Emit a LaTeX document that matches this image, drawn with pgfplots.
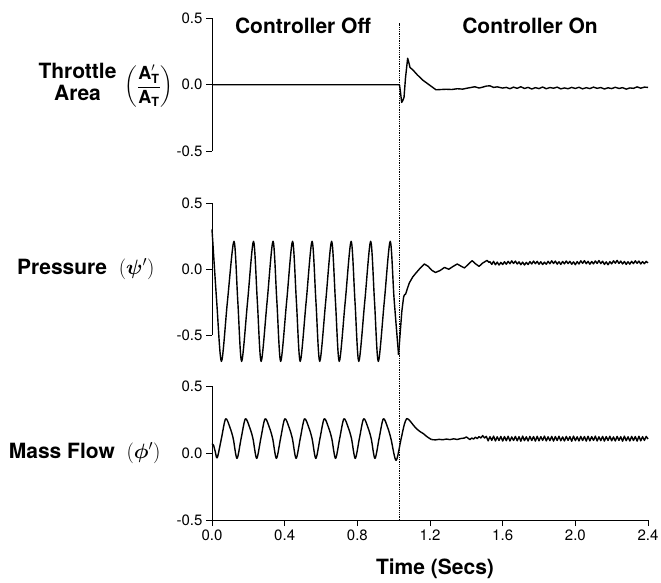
\documentclass[border=0pt]{standalone}
\usepackage{amsmath}
\usepackage{fontspec}
\setmainfont{TeX Gyre Heros}
\usepackage{pgfplots}
\pgfplotsset{compat=1.18}
\pgfplotsset{
  panel/.style={
    scale only axis, width=436pt, xmin=0, xmax=2.4, ymin=-0.5, ymax=0.5,
    axis y line*=left,
    ytick={-0.5,0,0.5}, yticklabels={-0.5,0.0,0.5},
    tick align=outside, major tick length=6pt,
    tick style={black, line width=1pt},
    axis line style={black, line width=1pt},
    tick label style={font=\fontsize{15}{16}\selectfont},
    clip=false,
  },
  dat/.style={black, line width=1.4pt, line join=round},
}
\newcommand{\lbl}{\fontsize{21}{22}\selectfont\bfseries}
\begin{document}
\begin{tikzpicture}
\useasboundingbox (0pt,0pt) rectangle (661pt,-582pt);

% ---------- Throttle area ----------
\begin{axis}[panel, axis x line=none, at={(212pt,-151pt)}, anchor=south west, height=132.5pt]
\addplot[dat] coordinates {
(0,0) (1.032,0) (1.037,-0.05) (1.044,-0.133) (1.050,-0.12) (1.057,-0.095) (1.065,0.05)
(1.077,0.20) (1.083,0.17) (1.090,0.13) (1.105,0.113) (1.130,0.075) (1.160,0.035) (1.200,-0.005)
(1.233,-0.038) (1.26,-0.036) (1.29,-0.034) (1.32,-0.036) (1.35,-0.030) (1.38,-0.033) (1.40,-0.027)
(1.42,-0.022) (1.447,-0.015) (1.47,-0.025) (1.49,-0.018) (1.51,-0.010) (1.53,-0.008) (1.55,-0.02)
(1.57,-0.016) (1.60,-0.025) (1.62,-0.020) (1.64,-0.030) (1.66,-0.018) (1.68,-0.027) (1.70,-0.015)
(1.72,-0.028) (1.74,-0.020) (1.76,-0.032) (1.78,-0.022) (1.80,-0.029) (1.82,-0.017) (1.84,-0.030)
(1.86,-0.021) (1.88,-0.026) (1.90,-0.018) (1.92,-0.031) (1.94,-0.024) (1.96,-0.030) (1.98,-0.020)
(2.00,-0.028) (2.02,-0.019) (2.04,-0.031) (2.06,-0.022) (2.08,-0.029) (2.10,-0.018) (2.12,-0.027)
(2.14,-0.021) (2.16,-0.032) (2.18,-0.023) (2.20,-0.029) (2.22,-0.019) (2.24,-0.028) (2.26,-0.022)
(2.28,-0.033) (2.30,-0.024) (2.32,-0.027) (2.34,-0.016) (2.36,-0.026) (2.38,-0.018) (2.40,-0.020)
};
\end{axis}

% ---------- Pressure ----------
\begin{axis}[panel, axis x line=none, at={(212pt,-335pt)}, anchor=south west, height=132pt]
\addplot[dat, smooth] coordinates {
(0.000,0.30) (0.026,-0.25) (0.052,-0.70) (0.085,-0.245) (0.121,0.21) (0.142,-0.245)
(0.163,-0.70) (0.196,-0.245) (0.2285,0.21) (0.2495,-0.245) (0.2705,-0.70) (0.3035,-0.245)
(0.336,0.21) (0.357,-0.245) (0.378,-0.70) (0.411,-0.245) (0.4435,0.21) (0.4645,-0.245)
(0.4855,-0.70) (0.5185,-0.245) (0.551,0.21) (0.572,-0.245) (0.593,-0.70) (0.626,-0.245)
(0.6585,0.21) (0.6795,-0.245) (0.7005,-0.70) (0.7335,-0.245) (0.766,0.21) (0.787,-0.245)
(0.808,-0.70) (0.841,-0.245) (0.8735,0.21) (0.8945,-0.245) (0.9155,-0.70) (0.9485,-0.245)
(0.981,0.21) (1.002,-0.22) (1.027,-0.65)
};
\addplot[dat] coordinates {
(1.027,-0.65) (1.035,-0.50) (1.045,-0.32) (1.055,-0.21) (1.060,-0.195) (1.066,-0.19) (1.075,-0.15)
(1.086,-0.106) (1.105,-0.06) (1.123,-0.03) (1.145,0.005) (1.169,0.038) (1.19,0.02) (1.21,-0.01)
(1.23,-0.026) (1.255,-0.012) (1.280,0.012) (1.303,-0.002) (1.325,0.018) (1.350,0.038) (1.370,0.022)
(1.390,0.008) (1.41,0.035) (1.432,0.063) (1.45,0.04) (1.470,0.02) (1.49,0.045) (1.514,0.065)
(1.525,0.05) (1.53,0.055) (1.54,0.035) (1.55,0.058) (1.56,0.032) (1.57,0.052) (1.58,0.030)
(1.59,0.050) (1.60,0.034) (1.61,0.055) (1.62,0.036) (1.63,0.058) (1.64,0.040) (1.65,0.062)
(1.66,0.042) (1.67,0.060) (1.68,0.038) (1.69,0.054) (1.70,0.033) (1.71,0.052) (1.72,0.030)
(1.73,0.050) (1.74,0.034) (1.75,0.056) (1.76,0.038) (1.77,0.060) (1.78,0.040) (1.79,0.058)
(1.80,0.036) (1.81,0.055) (1.82,0.034) (1.83,0.052) (1.84,0.036) (1.85,0.058) (1.86,0.040)
(1.87,0.062) (1.88,0.042) (1.89,0.060) (1.90,0.037) (1.91,0.055) (1.92,0.035) (1.93,0.057)
(1.94,0.039) (1.95,0.061) (1.96,0.041) (1.97,0.058) (1.98,0.036) (1.99,0.054) (2.00,0.033)
(2.01,0.056) (2.02,0.038) (2.03,0.062) (2.04,0.043) (2.05,0.063) (2.06,0.040) (2.07,0.058)
(2.08,0.036) (2.09,0.057) (2.10,0.039) (2.11,0.061) (2.12,0.042) (2.13,0.064) (2.14,0.041)
(2.15,0.059) (2.16,0.035) (2.17,0.054) (2.18,0.032) (2.19,0.056) (2.20,0.039) (2.21,0.062)
(2.22,0.044) (2.23,0.065) (2.24,0.042) (2.25,0.060) (2.26,0.038) (2.27,0.057) (2.28,0.035)
(2.29,0.055) (2.30,0.037) (2.31,0.058) (2.32,0.041) (2.33,0.062) (2.34,0.043) (2.35,0.060)
(2.36,0.038) (2.37,0.056) (2.38,0.040) (2.39,0.058) (2.40,0.046)
};
\end{axis}

% ---------- Mass flow ----------
\begin{axis}[panel, at={(212pt,-520pt)}, anchor=south west, height=134pt,
  axis x line*=bottom,
  xtick={0,0.4,0.8,1.2,1.6,2.0,2.4}, xticklabels={0.0,0.4,0.8,1.2,1.6,2.0,2.4}]
\addplot[dat, smooth] coordinates {
(0.000,0.07) (0.008,0.06) (0.018,0.01) (0.029,-0.035)
(0.052,0.11) (0.075,0.255) (0.099,0.19) (0.117,0.107) (0.1375,-0.04)
(0.1605,0.11) (0.1835,0.255) (0.2075,0.19) (0.2255,0.107) (0.246,-0.04)
(0.269,0.11) (0.292,0.255) (0.316,0.19) (0.334,0.107) (0.3545,-0.04)
(0.3775,0.11) (0.4005,0.255) (0.4245,0.19) (0.4425,0.107) (0.463,-0.04)
(0.486,0.11) (0.509,0.255) (0.533,0.19) (0.551,0.107) (0.5715,-0.04)
(0.5945,0.11) (0.6175,0.255) (0.6415,0.19) (0.6595,0.107) (0.680,-0.04)
(0.703,0.11) (0.726,0.255) (0.750,0.19) (0.768,0.107) (0.7885,-0.04)
(0.8115,0.11) (0.8345,0.255) (0.8585,0.19) (0.8765,0.107) (0.897,-0.04)
(0.920,0.11) (0.943,0.255) (0.967,0.19) (0.985,0.107) (1.013,-0.055)
(1.04,0.10) (1.058,0.21) (1.072,0.257) (1.09,0.239) (1.11,0.205) (1.127,0.18)
(1.145,0.16) (1.163,0.145) (1.185,0.12) (1.209,0.10)
};
\addplot[dat] coordinates {
(1.209,0.10) (1.23,0.098) (1.25,0.102) (1.27,0.099) (1.29,0.104) (1.31,0.100) (1.33,0.106)
(1.35,0.101) (1.37,0.108) (1.39,0.112) (1.40,0.120) (1.41,0.110) (1.42,0.100) (1.43,0.112)
(1.44,0.104) (1.45,0.118) (1.46,0.108) (1.47,0.122) (1.48,0.112) (1.49,0.130) (1.50,0.112)
(1.51,0.124) (1.52,0.091) (1.53,0.122) (1.54,0.094) (1.55,0.126) (1.56,0.090) (1.57,0.121)
(1.58,0.093) (1.59,0.124) (1.60,0.089) (1.61,0.123) (1.62,0.092) (1.63,0.125) (1.64,0.090)
(1.65,0.120) (1.66,0.094) (1.67,0.124) (1.68,0.091) (1.69,0.122) (1.70,0.088) (1.71,0.126)
(1.72,0.092) (1.73,0.121) (1.74,0.090) (1.75,0.124) (1.76,0.093) (1.77,0.123) (1.78,0.089)
(1.79,0.125) (1.80,0.091) (1.81,0.122) (1.82,0.094) (1.83,0.126) (1.84,0.090) (1.85,0.121)
(1.86,0.092) (1.87,0.124) (1.88,0.089) (1.89,0.123) (1.90,0.093) (1.91,0.125) (1.92,0.091)
(1.93,0.120) (1.94,0.090) (1.95,0.124) (1.96,0.094) (1.97,0.122) (1.98,0.088) (1.99,0.126)
(2.00,0.092) (2.01,0.121) (2.02,0.090) (2.03,0.124) (2.04,0.093) (2.05,0.123) (2.06,0.089)
(2.07,0.125) (2.08,0.091) (2.09,0.122) (2.10,0.094) (2.11,0.126) (2.12,0.090) (2.13,0.121)
(2.14,0.092) (2.15,0.124) (2.16,0.089) (2.17,0.123) (2.18,0.093) (2.19,0.125) (2.20,0.091)
(2.21,0.120) (2.22,0.090) (2.23,0.124) (2.24,0.094) (2.25,0.122) (2.26,0.088) (2.27,0.126)
(2.28,0.092) (2.29,0.121) (2.30,0.090) (2.31,0.124) (2.32,0.093) (2.33,0.123) (2.34,0.089)
(2.35,0.125) (2.36,0.091) (2.37,0.122) (2.38,0.094) (2.39,0.124) (2.40,0.105)
};
% controller switch-on instant
\addplot[black, densely dotted, line width=1.3pt] coordinates {(1.033,-0.5) (1.033,3.21)};
\end{axis}

% ---------- labels ----------
\node[font=\lbl, anchor=base] at (303pt,-33pt) {Controller Off};
\node[font=\lbl, anchor=base] at (530pt,-33pt) {Controller On};
\node[font=\lbl, align=center] at (77.5pt,-82pt) {Throttle\\Area};
\node at (149pt,-86pt) {\fontsize{18}{20}\selectfont$\displaystyle\left(\frac{\text{\bfseries A}'_{\text{\bfseries T}}}{\text{\bfseries A}_{\text{\bfseries T}}}\right)$};
\node[font=\lbl, anchor=east] at (158pt,-269pt) {Pressure\ \ $(\boldsymbol{\psi}')$};
\node[font=\lbl, anchor=east] at (164pt,-453pt) {Mass Flow\ \ $(\boldsymbol{\phi}')$};
\node[font=\lbl, anchor=base] at (435pt,-574pt) {Time (Secs)};
\end{tikzpicture}
\end{document}
